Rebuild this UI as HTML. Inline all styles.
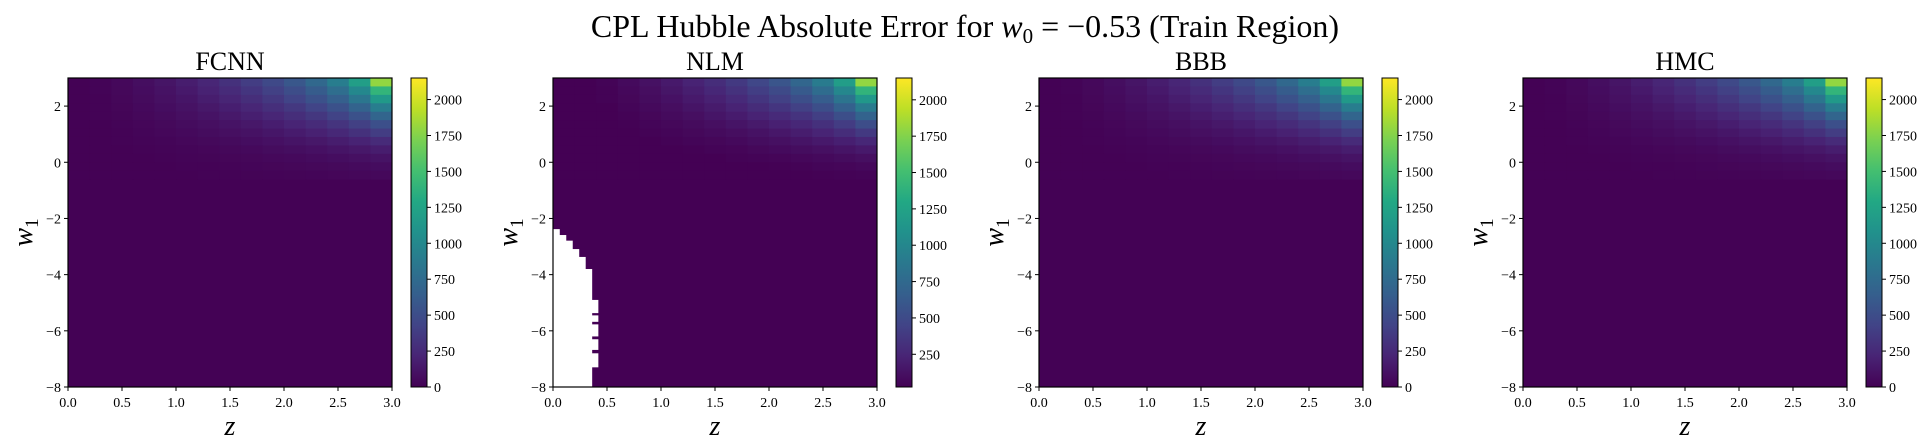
<!DOCTYPE html>
<html><head><meta charset="utf-8">
<style>
html,body{margin:0;padding:0;background:#fff;}
svg{display:block;font-family:"Liberation Serif","DejaVu Serif",serif;}
</style></head>
<body>
<svg id="fig" width="1929" height="448" viewBox="0 0 1929 448" xmlns="http://www.w3.org/2000/svg">
<defs>
<linearGradient id="viridisGrad" x1="0" y1="1" x2="0" y2="0">
<stop offset="0" stop-color="#440154"/><stop offset="0.1" stop-color="#482475"/>
<stop offset="0.2" stop-color="#414487"/><stop offset="0.3" stop-color="#355f8d"/>
<stop offset="0.4" stop-color="#2a788e"/><stop offset="0.5" stop-color="#21918c"/>
<stop offset="0.6" stop-color="#22a884"/><stop offset="0.7" stop-color="#44bf70"/>
<stop offset="0.8" stop-color="#7ad151"/><stop offset="0.9" stop-color="#bddf26"/>
<stop offset="1" stop-color="#fde725"/>
</linearGradient>
</defs>
<text x="965" y="37" text-anchor="middle" font-size="32">CPL Hubble Absolute Error for <tspan font-style="italic">w</tspan><tspan font-size="21" dy="6">0</tspan><tspan dy="-6"> = −0.53 (Train Region)</tspan></text>
</svg>
<script>
// ---- data ----
const panelNames = ["FCNN","NLM","BBB","HMC"];
const zCellEdges = [0,0.2,0.4,0.6,0.8,1.0,1.2,1.4,1.6,1.8,2.0,2.2,2.4,2.6,2.8,3.0];
const w1RowEdges = [3,2.7,2.4,2.1,1.8,1.5,1.2,0.9,0.6,0.3,0,-0.3,-0.6];
const errorRows = [
 [5,20,45,80,120,170,230,300,380,470,580,720,900,1200,1800],
 [5,18,40,70,105,150,200,260,330,410,500,620,770,1000,1400],
 [5,15,35,60,90,125,170,220,280,350,430,530,650,840,1150],
 [4,12,28,50,75,105,140,180,230,290,350,430,530,680,900],
 [4,10,22,40,60,85,110,145,185,230,280,340,420,530,700],
 [3,8,18,32,48,65,85,110,140,175,215,260,320,400,520],
 [3,6,14,24,36,50,65,85,105,130,160,195,240,300,380],
 [2,5,10,18,26,36,48,60,75,95,115,140,170,210,260],
 [2,4,8,13,18,25,33,42,52,65,80,95,115,140,170],
 [2,3,6,9,13,17,22,28,35,43,52,62,75,90,110],
 [1,2,4,6,9,12,15,19,23,28,34,40,48,57,70],
 [1,2,3,5,6,8,10,13,16,19,22,26,31,36,45]
];
const floorError = [5,25,6,8];
const cbarMin = [0,25,0,0];
const cbarMax = [2150,2150,2150,2150];
const cbarTicks = [0,250,500,750,1000,1250,1500,1750,2000];
const xTicks = [0,0.5,1.0,1.5,2.0,2.5,3.0];
const yTicks = [2,0,-2,-4,-6,-8];
// NLM missing (NaN) region: per z-column (width 0.06), w1 value below which cells are missing
const nlmMaskColWidth = 0.06;
const nlmMaskTop = [-2.38,-2.59,-2.79,-3.09,-3.37,-3.8];
const nlmCol6Top = -4.9, nlmCol6Bottom = -7.3;
const nlmCol6Gaps = [[-5.37,-5.45],[-5.68,-5.77],[-6.2,-6.3],[-6.68,-6.8]];

// ---- layout ----
const NS="http://www.w3.org/2000/svg";
const svg=document.getElementById('fig');
const panelLeft=[68,553,1039,1523], axW=324, axTop=78, axBot=387;
const viridis=["#440154","#482475","#414487","#355f8d","#2a788e","#21918c","#22a884","#44bf70","#7ad151","#bddf26","#fde725"];
function hex(c){return [1,3,5].map(i=>parseInt(c.substr(i,2),16));}
function cmap(t){t=Math.max(0,Math.min(1,t));const p=t*10,i=Math.min(9,Math.floor(p)),f=p-i;
 const a=hex(viridis[i]),b=hex(viridis[i+1]);return 'rgb('+a.map((v,k)=>Math.round(v+(b[k]-v)*f)).join(',')+')';}
function el(tag,attrs,parent){const e=document.createElementNS(NS,tag);for(const k in attrs)e.setAttribute(k,attrs[k]);(parent||svg).appendChild(e);return e;}

panelNames.forEach((name,p)=>{
 const L=panelLeft[p];
 const xs=z=>L+z/3*axW, ys=w=>axTop+(3-w)/11*(axBot-axTop);
 const norm=v=>(v-cbarMin[p])/(cbarMax[p]-cbarMin[p]);
 const g=el('g',{});
 
 
 const hm=el('g',{},g);
 
 
 const fl=el('rect',{x:xs(0),y:ys(w1RowEdges[w1RowEdges.length-1]),width:axW,height:ys(-8)-ys(w1RowEdges[w1RowEdges.length-1]),fill:cmap(norm(floorError[p]))},hm);
 
 
 errorRows.forEach((row,r)=>row.forEach((v,c)=>{
  const x0=xs(zCellEdges[c]),x1=xs(zCellEdges[c+1]),y0=ys(w1RowEdges[r]),y1=ys(w1RowEdges[r+1]);
  const cell=el('rect',{x:x0,y:y0,width:x1-x0+0.5,height:y1-y0+0.5,fill:cmap(norm(Math.max(v,floorError[p])))},hm);
  
  
 }));
 if(name==="NLM"){
  nlmMaskTop.forEach((t,c)=>{
   const m=el('rect',{x:xs(c*nlmMaskColWidth),y:ys(t),width:xs((c+1)*nlmMaskColWidth)-xs(c*nlmMaskColWidth)+0.3,height:ys(-8)-ys(t),fill:'#fff'},hm);
   
   
  });
  let prev=nlmCol6Top;
  const x6=xs(6*nlmMaskColWidth), w6=xs(7*nlmMaskColWidth)-x6;
  nlmCol6Gaps.concat([[nlmCol6Bottom,nlmCol6Bottom]]).forEach(gp=>{
   const m=el('rect',{x:x6,y:ys(prev),width:w6,height:ys(gp[0])-ys(prev),fill:'#fff'},hm);
   
   
   prev=gp[1];
  });
 }
 const fr=el('rect',{x:L,y:axTop,width:axW,height:axBot-axTop,fill:'none',stroke:'#000','stroke-width':1.2},g);
 
 
 xTicks.forEach(t=>{
  el('line',{x1:xs(t),x2:xs(t),y1:axBot,y2:axBot+4,stroke:'#000','stroke-width':1},g);
  const tx=el('text',{x:xs(t),y:axBot+20,'text-anchor':'middle','font-size':14},g);
  tx.textContent=t.toFixed(1);
  
  
 });
 yTicks.forEach(t=>{
  el('line',{x1:L-4,x2:L,y1:ys(t),y2:ys(t),stroke:'#000','stroke-width':1},g);
  const tx=el('text',{x:L-7,y:ys(t)+5,'text-anchor':'end','font-size':14},g);
  tx.textContent=t<0?'−'+Math.abs(t):String(t);
  
  
 });
 const tt=el('text',{x:L+axW/2,y:70,'text-anchor':'middle','font-size':26},g);
 tt.textContent=name;
 
 
 const xl=el('text',{x:L+axW/2,y:435,'text-anchor':'middle','font-size':28,'font-style':'italic'},g);
 xl.textContent='z';
 
 
 const yl=el('text',{x:0,y:0,'text-anchor':'middle','font-size':28,'font-style':'italic',transform:'translate('+(L-36)+','+((axTop+axBot)/2)+') rotate(-90)'},g);
 yl.innerHTML='w<tspan font-size="19" dy="6" font-style="normal">1</tspan>';
 
 
 // colorbar
 const cx=L+343, cw=16;
 const cb=el('rect',{x:cx,y:axTop,width:cw,height:axBot-axTop,fill:'url(#viridisGrad)',stroke:'#000','stroke-width':1},g);
 
 
 const cy=v=>axBot-norm(v)*(axBot-axTop);
 cbarTicks.forEach(t=>{
  if(t<cbarMin[p]||t>cbarMax[p])return;
  el('line',{x1:cx+cw,x2:cx+cw+4,y1:cy(t),y2:cy(t),stroke:'#000','stroke-width':1},g);
  const tx=el('text',{x:cx+cw+7,y:cy(t)+5,'font-size':14},g);
  tx.textContent=String(t);
  
  
 });
});
</script>
</body></html>
